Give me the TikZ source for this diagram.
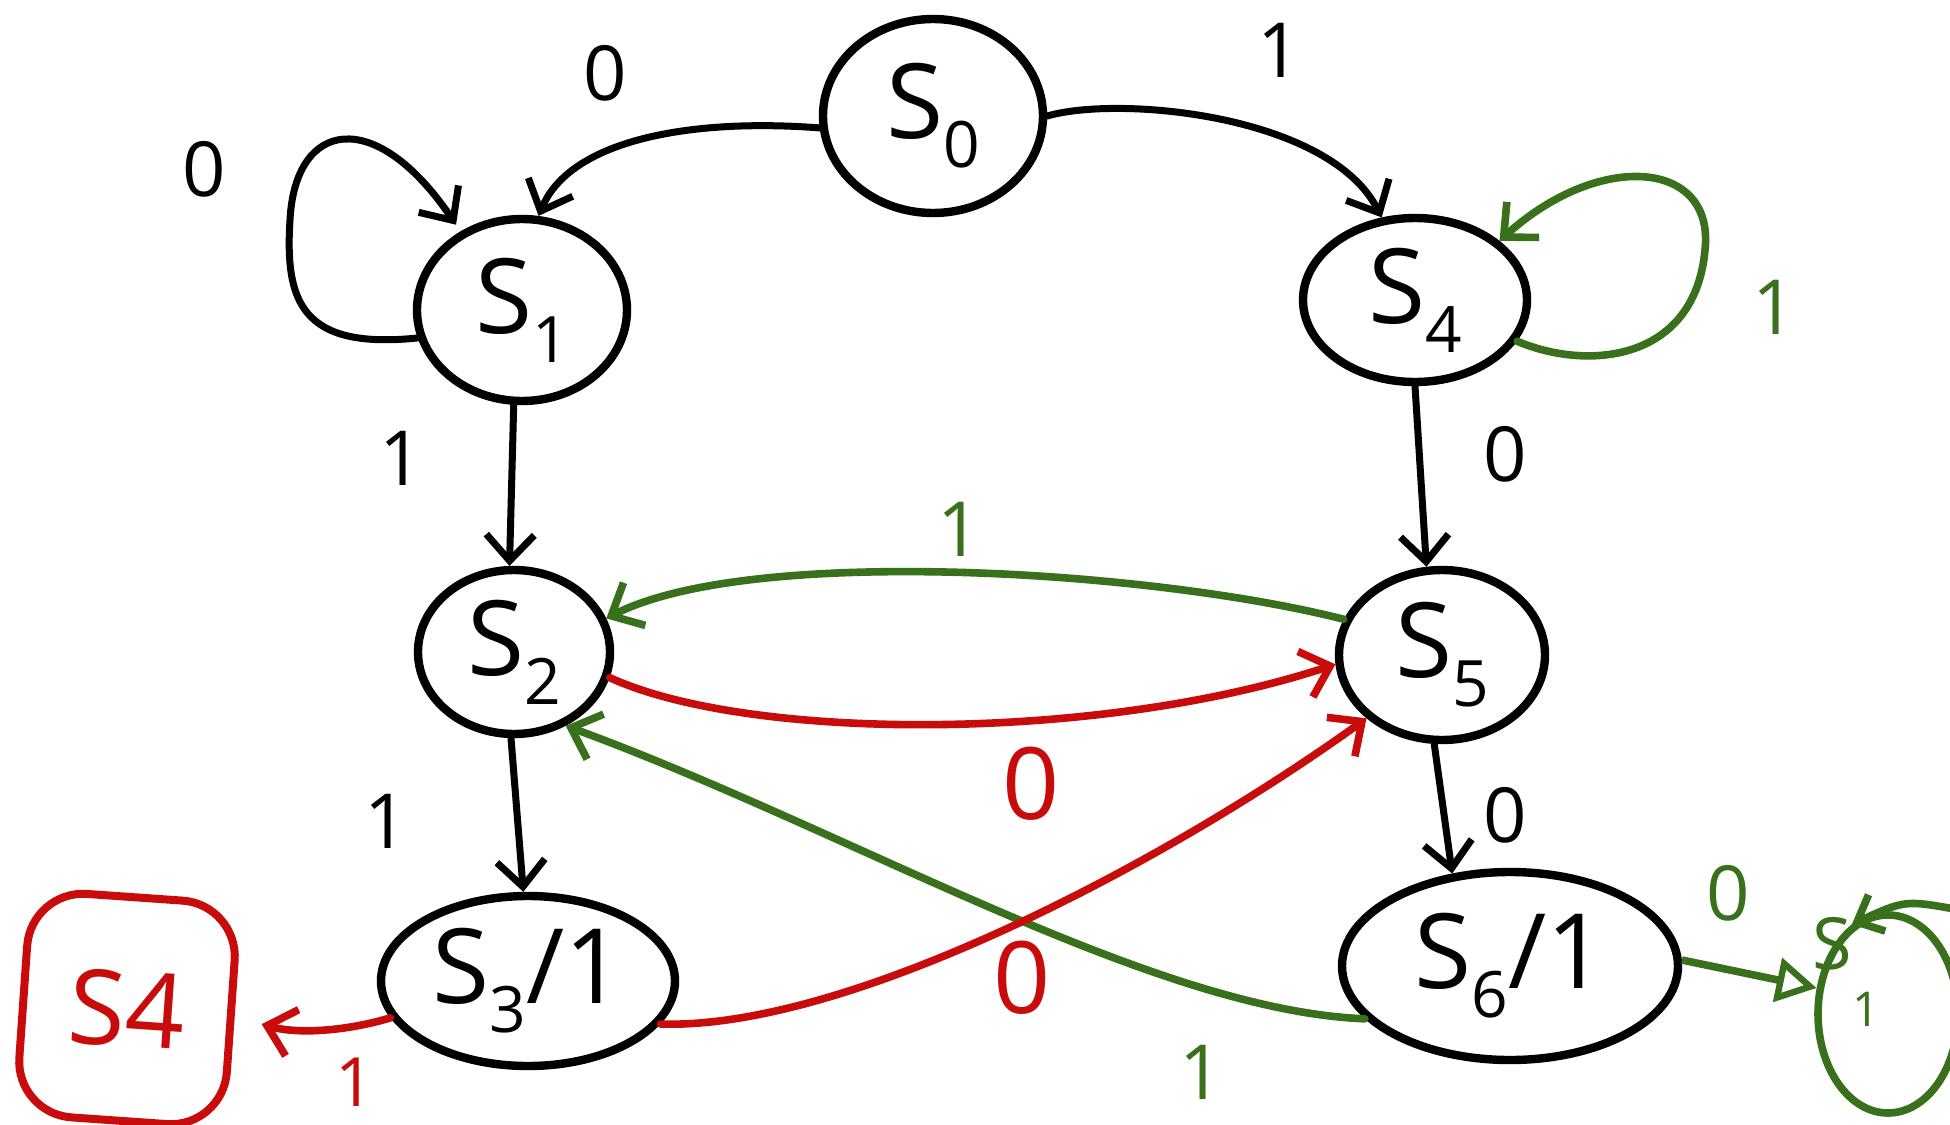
\documentclass[tikz,border=0pt]{standalone}
\usepackage{fontspec}
\setmainfont{Open Sans}
\usetikzlibrary{shapes.geometric,arrows.meta}
\definecolor{hgreen}{RGB}{56,112,28}
\definecolor{hred}{RGB}{200,12,12}
\newcommand{\subdig}[1]{\raisebox{-0.28em}{\fontsize{32}{32}\selectfont #1}}
\tikzset{
  st/.style={draw, ellipse, line width=4.2pt, inner sep=0pt, font=\fontsize{52}{52}\selectfont},
  tr/.style={line width=3.5pt, line cap=round, -{Straight Barb[length=13pt,width=24pt]}},
  gtr/.style={tr, draw=hgreen, line width=3.8pt},
  rtr/.style={tr, draw=hred, line width=3.8pt},
  lbl/.style={font=\fontsize{38}{38}\selectfont, inner sep=0pt},
  glbl/.style={lbl, text=hgreen},
  rlbl/.style={lbl, text=hred, font=\fontsize{50}{50}\selectfont},
}
\begin{document}
\begin{tikzpicture}[x=0.5pt,y=-0.5pt]
\useasboundingbox[fill=white] (0,0) rectangle (1950,1125);

% states
\node[st, minimum width=110pt, minimum height=97pt] (s0) at (933,116) {S\subdig{0}};
\node[st, minimum width=105pt, minimum height=91pt] (s1) at (522,310) {S\subdig{1}};
\node[st, minimum width=112pt, minimum height=82pt] (s4) at (1415,300) {S\subdig{4}};
\node[st, minimum width=96pt, minimum height=82pt] (s2) at (514,652) {S\subdig{2}};
\node[st, minimum width=103pt, minimum height=85pt] (s5) at (1442,655) {S\subdig{5}};
\node[st, minimum width=147pt, minimum height=85pt] (s3) at (528,981) {S\subdig{3}/1};
\node[st, minimum width=168pt, minimum height=94pt] (s6) at (1510,966) {S\subdig{6}/1};
\node[draw=hred, text=hred, line width=4pt, rounded corners=28pt, rotate=-4,
      minimum width=104pt, minimum height=112pt, font=\fontsize{52}{52}\selectfont]
      (rs4) at (127,1009) {S4};
\node[draw=hgreen, ellipse, line width=3.8pt, minimum width=70pt, minimum height=99pt]
      (gs1) at (1888,1014) {};
\node[text=hgreen, font=\fontsize{36}{36}\selectfont, inner sep=0pt] (gs1t) at (1846,972) {S\raisebox{-0.8em}{\fontsize{24}{24}\selectfont 1}};
\coordinate (gin) at (1960,910);

% black transitions
\draw[tr] (s0.186) .. controls (690,118) and (570,140) .. (s1.80);
\draw[tr] (s0.0) .. controls (1120,95) and (1330,115) .. (s4.112);
\draw[tr, shorten >=4pt] (s1.195) .. controls (300,350) and (285,300) .. (290,220)
      .. controls (295,120) and (375,105) .. (s1.128);
\draw[tr] (s1.265) -- (s2.93);
\draw[tr] (s4.270) -- (s5.100);
\draw[tr] (s2.268) -- (s3.93);
\draw[tr] (s5.265) -- (s6.122);

% green transitions
\draw[gtr] (s4.-22) .. controls (1590,372) and (1695,360) .. (1705,250)
      .. controls (1715,160) and (1600,150) .. (s4.35);
\draw[gtr] (s5.160) .. controls (1150,570) and (750,545) .. (s2.20);
\draw[gtr] (s6.200) .. controls (1150,1010) and (850,830) .. (s2.-55);
\draw[hgreen, line width=3.8pt, -{Triangle[open, length=20pt, width=22pt, line width=3.2pt]}] (s6.2) -- (gs1.160);
\draw[gtr, -{Straight Barb[length=11pt,width=20pt]}] (gin) .. controls (1905,900) .. (gs1.112);

% red transitions
\draw[rtr] (s2.-15) .. controls (750,742) and (1100,742) .. (s5.185);
\draw[rtr] (s3.-18) .. controls (850,1030) and (1170,860) .. (s5.220);
\draw[rtr, shorten >=14pt] (s3.195) .. controls (350,1030) and (300,1035) .. (rs4.east);

% labels
\node[lbl] (l1) at (605,73) {0};
\node[lbl] (l2) at (204,169) {0};
\node[lbl] (l3) at (1279,50) {1};
\node[glbl] (l4) at (1774,307) {1};
\node[lbl] (l5) at (401,458) {1};
\node[lbl] (l6) at (1505,454) {0};
\node[glbl] (l7) at (959,529) {1};
\node[rlbl] (l8) at (1031,784) {0};
\node[lbl] (l9) at (386,821) {1};
\node[lbl] (l10) at (1505,815) {0};
\node[glbl] (l11) at (1728,893) {0};
\node[rlbl] (l12) at (1022,978) {0};
\node[glbl] (l13) at (1201,1072) {1};
\node[rlbl, font=\fontsize{34}{34}\selectfont] (l14) at (355,1082) {1};
\end{tikzpicture}
\end{document}
